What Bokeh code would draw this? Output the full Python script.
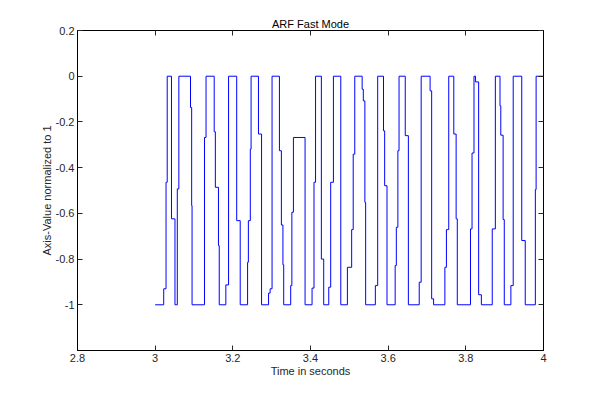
from bokeh.plotting import figure
from bokeh.models import FixedTicker, CustomJSTickFormatter, LinearAxis, Range1d
from bokeh.embed import file_html
from bokeh.resources import INLINE

# Step-change times (s) and the value held from each time onward
t_steps = [3.000, 3.022, 3.028, 3.031, 3.042, 3.051, 3.057, 3.061, 3.091, 3.094,
           3.095, 3.127, 3.131, 3.152, 3.155, 3.163, 3.165, 3.182, 3.189, 3.210,
           3.219, 3.238, 3.240, 3.245, 3.247, 3.266, 3.274, 3.292, 3.296, 3.301,
           3.320, 3.325, 3.329, 3.331, 3.349, 3.352, 3.356, 3.386, 3.404, 3.409,
           3.413, 3.428, 3.434, 3.447, 3.452, 3.459, 3.478, 3.495, 3.506, 3.510,
           3.514, 3.533, 3.536, 3.540, 3.542, 3.567, 3.573, 3.588, 3.591, 3.597,
           3.618, 3.621, 3.625, 3.628, 3.644, 3.652, 3.680, 3.685, 3.708, 3.712,
           3.717, 3.746, 3.750, 3.756, 3.769, 3.775, 3.778, 3.812, 3.816, 3.821,
           3.825, 3.833, 3.840, 3.868, 3.876, 3.888, 3.890, 3.896, 3.899, 3.916,
           3.922, 3.944, 3.953, 3.979, 3.981, 4.000]
v_steps = [-1.0, -0.93, -0.464, 0.0, -0.624, -1.0, -0.493, 0.0, -0.137, -0.566,
           -1.0, -0.268, 0.0, -0.243, -0.486, -0.741, -1.0, -0.913, 0.0, -0.632,
           -1.0, -0.814, -0.632, -0.319, 0.0, -0.253, -1.0, -0.949, -0.93, 0.0,
           -0.326, -0.651, -0.825, -1.0, -0.916, -0.595, -0.268, -1.0, -0.927, -0.464,
           0.0, -0.80, -1.0, -0.923, -0.464, 0.0, -1.0, -0.836, -0.671, -0.341,
           0.0, -0.057, -0.108, -0.552, -1.0, -0.916, 0.0, -0.239, -0.479, -1.0,
           -0.828, -0.661, -0.326, 0.0, -0.26, -1.0, -0.901, 0.0, -0.064, -0.974,
           -1.0, -0.836, -0.671, 0.0, -0.253, -0.624, -1.0, -0.668, -0.336, 0.0,
           -0.025, -0.956, -1.0, -0.668, 0.0, -0.13, -0.258, -0.627, -1.0, -0.916,
           0.0, -0.719, -1.0, -0.496, 0.0, 0.0]

x_ticks = [2.8, 3.0, 3.2, 3.4, 3.6, 3.8, 4.0]
y_ticks = [-1.0, -0.8, -0.6, -0.4, -0.2, 0.0, 0.2]

FONT = "Liberation Sans"
TXT = "#262626"

p = figure(width=600, height=394, output_backend="svg", toolbar_location=None,
           x_range=Range1d(2.8, 4.0), y_range=Range1d(-1.2, 0.2),
           min_border_left=77, min_border_right=57, min_border_top=30,
           min_border_bottom=44, title="ARF Fast Mode")
p.title.align = "center"
p.title.text_font = FONT
p.title.text_font_size = "11px"
p.title.text_font_style = "normal"
p.title.text_color = "#000000"
p.title.standoff = 1

p.step(x=t_steps, y=v_steps, mode="after", line_color="#0000ff", line_width=1)

p.xgrid.visible = False
p.ygrid.visible = False
p.outline_line_color = "#000000"
p.outline_line_alpha = 1.0

fmt = CustomJSTickFormatter(code="return String(Math.round(tick*10)/10);")
blank = CustomJSTickFormatter(code="return '';")

for ax, ticks in ((p.xaxis[0], x_ticks), (p.yaxis[0], y_ticks)):
    ax.ticker = FixedTicker(ticks=ticks)
    ax.formatter = fmt
    ax.major_tick_in = 5
    ax.major_tick_out = 0
    ax.minor_tick_line_color = None
    ax.axis_line_color = "#000000"
    ax.major_tick_line_color = "#262626"
    ax.major_label_text_font = FONT
    ax.major_label_text_font_size = "11px"
    ax.major_label_text_color = TXT
    ax.major_label_standoff = 3
    ax.axis_label_text_font = FONT
    ax.axis_label_text_font_size = "11px"
    ax.axis_label_text_font_style = "normal"
    ax.axis_label_text_color = TXT
    ax.axis_label_standoff = 0

p.xaxis.axis_label = "Time in seconds"
p.yaxis.axis_label = "Axis-Value normalized to 1"

for loc, ticks in (("above", x_ticks), ("right", y_ticks)):
    ax = LinearAxis(ticker=FixedTicker(ticks=ticks), formatter=blank)
    ax.major_tick_in = 5
    ax.major_tick_out = 0
    ax.minor_tick_line_color = None
    ax.axis_line_color = "#000000"
    ax.major_tick_line_color = "#262626"
    ax.major_label_standoff = 0
    p.add_layout(ax, loc)

open("out.html", "w").write(file_html(p, INLINE))
